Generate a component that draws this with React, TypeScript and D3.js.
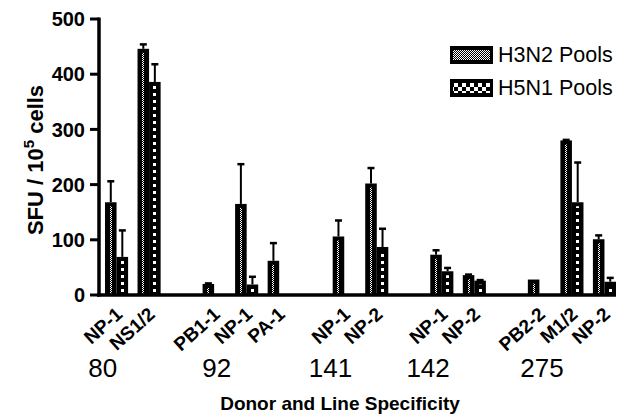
import React, { useEffect, useRef } from "react";
import * as d3 from "d3";

// donors and the line specificities tested for each
const donors = ["80", "92", "141", "142", "275"];
const lineLabels = [
  ["NP-1", "NS1/2"],
  ["PB1-1", "NP-1", "PA-1"],
  ["NP-1", "NP-2"],
  ["NP-1", "NP-2"],
  ["PB2-2", "M1/2", "NP-2"],
];

// SFU / 10^5 cells, mean and upper error (SEM)
const h3n2Values = [168, 446, 20, 165, 62, 106, 202, 73, 36, 28, 280, 101];
const h3n2Err = [38, 8, 1, 72, 32, 29, 28, 8, 1, 0, 1, 7];
const h5n1Values = [69, 386, 0, 19, 0, 0, 87, 43, 26, 0, 168, 24];
const h5n1Err = [48, 32, 0, 14, 0, 0, 33, 6, 1, 0, 72, 7];

const seriesNames = ["H3N2 Pools", "H5N1 Pools"];
const yTicks = [0, 100, 200, 300, 400, 500];

const App = () => {
  const svgRef = useRef<SVGSVGElement>(null);

  useEffect(() => {
    const svg = d3.select(svgRef.current);
    svg.selectAll("*").remove();

    const font = "'Liberation Sans', Arial, sans-serif";

    // build slots: one per line, with an empty spacer between donors
    const slots: { key: string; donor: number; line: string; idx: number }[] = [];
    let idx = 0;
    lineLabels.forEach((lines, d) => {
      if (d > 0) slots.push({ key: `gap${d}`, donor: -1, line: "", idx: -1 });
      lines.forEach((line, j) => {
        slots.push({ key: `${d}-${j}`, donor: d, line, idx });
        idx++;
      });
    });
    const bars = slots.filter((s) => s.donor >= 0);

    const x0 = d3
      .scaleBand()
      .domain(slots.map((s) => s.key))
      .range([105, 616])
      .paddingInner(0.29)
      .paddingOuter(0);

    const x1 = d3
      .scaleBand()
      .domain(seriesNames)
      .range([0, x0.bandwidth()])
      .padding(0);

    const y = d3.scaleLinear().domain([0, 500]).range([295, 19]);

    // patterns
    const defs = svg.append("defs");
    const p1 = defs
      .append("pattern")
      .attr("id", "pat-h3n2")
      .attr("patternUnits", "userSpaceOnUse")
      .attr("width", 2)
      .attr("height", 2);
    p1.append("rect").attr("width", 2).attr("height", 2).attr("fill", "#000");
    p1.append("rect").attr("width", 1).attr("height", 1).attr("fill", "#fff");
    p1.append("rect").attr("x", 1).attr("y", 1).attr("width", 1).attr("height", 1).attr("fill", "#fff");

    const p2 = defs
      .append("pattern")
      .attr("id", "pat-h5n1")
      .attr("patternUnits", "userSpaceOnUse")
      .attr("width", 100)
      .attr("height", 7);
    p2.append("rect").attr("width", 100).attr("height", 7).attr("fill", "#000");
    p2.append("rect").attr("y", 2).attr("width", 100).attr("height", 3).attr("fill", "#fff");

    const p3 = defs
      .append("pattern")
      .attr("id", "pat-h5n1-legend")
      .attr("patternUnits", "userSpaceOnUse")
      .attr("width", 8)
      .attr("height", 8);
    p3.append("rect").attr("width", 8).attr("height", 8).attr("fill", "#000");
    p3.append("rect").attr("width", 4).attr("height", 4).attr("fill", "#fff");
    p3.append("rect").attr("x", 4).attr("y", 4).attr("width", 4).attr("height", 4).attr("fill", "#fff");

    const series = [
      { name: seriesNames[0], values: h3n2Values, err: h3n2Err, pat: "url(#pat-h3n2)", inner: 2 },
      { name: seriesNames[1], values: h5n1Values, err: h5n1Err, pat: "url(#pat-h5n1)", inner: 3 },
    ];

    // bars
    series.forEach((s) => {
      const g = svg.append("g");
      bars.forEach((b) => {
        const v = s.values[b.idx];
        if (v <= 0) return;
        const bx = (x0(b.key) as number) + (x1(s.name) as number);
        const bw = x1.bandwidth();
        const top = y(v);
        const bottom = y(0);
        // error bar
        const e = s.err[b.idx];
        if (e > 0) {
          const cx = bx + bw / 2;
          g.append("line")
            .attr("x1", cx).attr("x2", cx)
            .attr("y1", top).attr("y2", y(v + e))
            .attr("stroke", "#000").attr("stroke-width", 2);
          g.append("line")
            .attr("x1", cx - 3.5).attr("x2", cx + 3.5)
            .attr("y1", y(v + e)).attr("y2", y(v + e))
            .attr("stroke", "#000").attr("stroke-width", 2.5);
        }
        g.append("rect")
          .attr("x", bx).attr("y", top)
          .attr("width", bw).attr("height", bottom - top)
          .attr("fill", "#000");
        const innerH = bottom - top - 4;
        if (innerH > 0) {
          g.append("rect")
            .attr("x", Math.round(bx + bw / 2 - s.inner / 2)).attr("y", top + 4)
            .attr("width", s.inner).attr("height", innerH)
            .attr("fill", s.pat);
        }
      });
    });

    // y axis
    const yAxis = svg.append("g").attr("transform", "translate(99,0)");
    yAxis
      .append("line")
      .attr("x1", 0).attr("x2", 0)
      .attr("y1", y(500) - 1.5).attr("y2", y(0) + 1.5)
      .attr("stroke", "#000").attr("stroke-width", 3.5);
    yTicks.forEach((t) => {
      yAxis.append("line")
        .attr("x1", -9).attr("x2", 0)
        .attr("y1", y(t)).attr("y2", y(t))
        .attr("stroke", "#000").attr("stroke-width", 3);
      yAxis.append("text")
        .attr("x", -14).attr("y", y(t))
        .attr("dy", "0.36em")
        .attr("text-anchor", "end")
        .attr("font-family", font)
        .attr("font-weight", "bold")
        .attr("font-size", 20)
        .text(t);
    });

    // x axis baseline
    svg.append("line")
      .attr("x1", 97).attr("x2", 616)
      .attr("y1", y(0)).attr("y2", y(0))
      .attr("stroke", "#000").attr("stroke-width", 3.5);

    // y title
    const yTitle = svg.append("text")
      .attr("transform", "translate(43,160) rotate(-90)")
      .attr("text-anchor", "middle")
      .attr("font-family", font)
      .attr("font-weight", "bold")
      .attr("font-size", 22);
    yTitle.append("tspan").text("SFU / 10");
    yTitle.append("tspan").attr("dy", -9).attr("font-size", 15).text("5");
    yTitle.append("tspan").attr("dy", 9).text(" cells");

    // line specificity labels
    bars.forEach((b) => {
      const cx = (x0(b.key) as number) + x0.bandwidth() / 2;
      svg.append("text")
        .attr("transform", `translate(${cx + 7},316) rotate(-42)`)
        .attr("text-anchor", "end")
        .attr("font-family", font)
        .attr("font-weight", "bold")
        .attr("font-size", 19)
        .text(b.line);
    });

    // donor labels
    donors.forEach((d, i) => {
      const group = slots.filter((s) => s.donor === i);
      const start = x0(group[0].key) as number;
      const end = (x0(group[group.length - 1].key) as number) + x0.bandwidth();
      svg.append("text")
        .attr("x", (start + end) / 2 - 30)
        .attr("y", 377)
        .attr("text-anchor", "middle")
        .attr("font-family", font)
        .attr("font-size", 26)
        .text(d);
    });

    // x title
    svg.append("text")
      .attr("x", 340).attr("y", 410)
      .attr("text-anchor", "middle")
      .attr("font-family", font)
      .attr("font-weight", "bold")
      .attr("font-size", 19)
      .text("Donor and Line Specificity");

    // legend
    const legend = svg.append("g").attr("transform", "translate(450,46)");
    const swatches = ["url(#pat-h3n2)", "url(#pat-h5n1-legend)"];
    seriesNames.forEach((name, i) => {
      const row = legend.append("g").attr("transform", `translate(0,${i * 33})`);
      row.append("rect").attr("width", 43).attr("height", 18).attr("fill", "#000");
      row.append("rect")
        .attr("x", 3).attr("y", 4)
        .attr("width", 37).attr("height", 10)
        .attr("fill", swatches[i]);
      row.append("text")
        .attr("x", 48).attr("y", 16)
        .attr("font-family", font)
        .attr("font-size", 21.5)
        .text(name);
    });
  }, []);

  return (
    <svg
      ref={svgRef}
      width="618"
      height="417"
      style={{ position: "absolute", left: 0, top: 0, background: "#fff" }}
    ></svg>
  );
};

export default App;
